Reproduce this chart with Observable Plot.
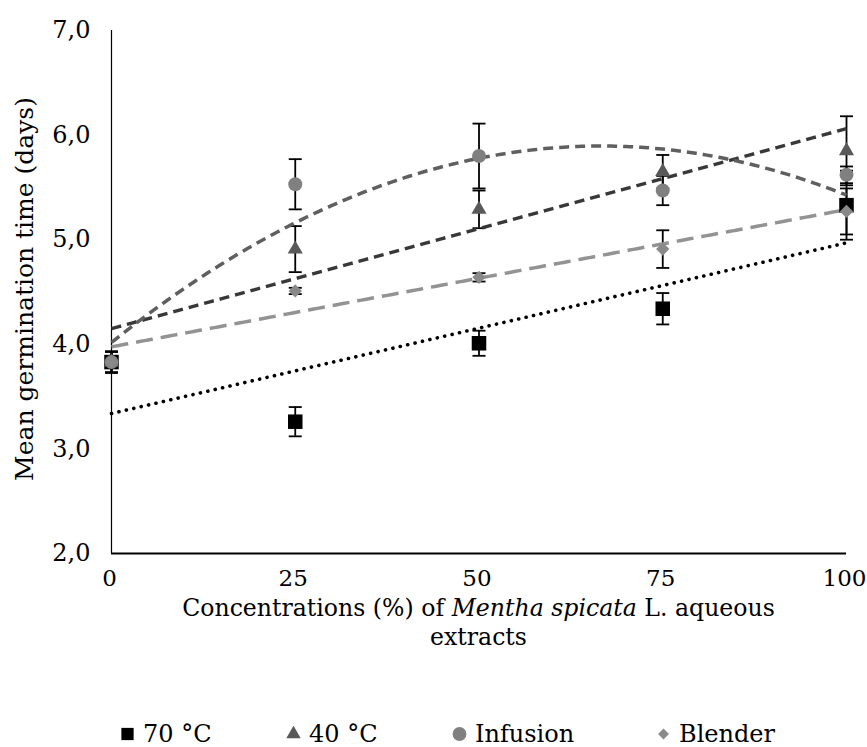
<!DOCTYPE html>
<html>
<head>
<meta charset="utf-8">
<script src="https://cdn.jsdelivr.net/npm/d3@7"></script>
<script src="https://cdn.jsdelivr.net/npm/@observablehq/plot@0.6"></script>
<style>
  body { margin: 0; background: #fff; }
  #wrap { width: 867px; height: 747px; position: relative; font-family: "DejaVu Serif", serif; }
  #legend { position: relative; width: 867px; height: 37px; font-size: 24px; color: #000; }
  #legend .item { position: absolute; top: 5px; height: 37px; display: flex; align-items: center; white-space: nowrap; }
  #legend svg { display: block; margin-right: 8px; }
</style>
</head>
<body>
<div id="wrap"><div id="chart"></div><div id="legend"></div></div>
<script>
// ---- data ----
const concentrations = [0, 25, 50, 75, 100];
const seriesNames = ["70 °C", "40 °C", "Infusion", "Blender"];
const mean70 = [3.83, 3.26, 4.01, 4.34, 5.33];
const err70  = [0.10, 0.14, 0.12, 0.15, 0.33];
const mean40 = [3.83, 4.91, 5.29, 5.65, 5.85];
const err40  = [0.10, 0.22, 0.18, 0.16, 0.33];
const meanInf = [3.83, 5.53, 5.80, 5.47, 5.62];
const errInf  = [0.10, 0.24, 0.31, 0.14, 0.08];
const meanBl = [3.83, 4.51, 4.64, 4.91, 5.27];
const errBl  = [0.10, 0.03, 0.04, 0.18, 0.22];
const trendDegree = [1, 1, 2, 1]; // linear, linear, polynomial (2), linear
const yTicks = [2, 3, 4, 5, 6, 7];

// ---- styles ----
const markerFill = ["#000000", "#595959", "#808080", "#898989"];
const markerSymbol = ["square", "triangle", "circle", "diamond2"];
const markerR = [8.2, 5.6, 7, 6];
const lineColor = ["#000000", "#383838", "#5f5f5f", "#939393"];
const lineDash = ["0.1,7.5", "10,6", "10,6", "17,8"];
const lineWidth = [3.6, 3.5, 3.5, 3.5];

const means = [mean70, mean40, meanInf, meanBl];
const errs = [err70, err40, errInf, errBl];

const rows = [];
seriesNames.forEach((s, i) => {
  concentrations.forEach((c, j) => {
    rows.push({series: s, idx: i, x: c, y: means[i][j], lo: means[i][j] - errs[i][j], hi: means[i][j] + errs[i][j]});
  });
});

function polyfit(xs, ys, deg) {
  const n = deg + 1;
  const A = Array.from({length: n}, () => Array(n + 1).fill(0));
  for (let k = 0; k < xs.length; k++) {
    for (let i = 0; i < n; i++) {
      for (let j = 0; j < n; j++) A[i][j] += Math.pow(xs[k], i + j);
      A[i][n] += ys[k] * Math.pow(xs[k], i);
    }
  }
  for (let i = 0; i < n; i++) {
    let p = i;
    for (let r = i + 1; r < n; r++) if (Math.abs(A[r][i]) > Math.abs(A[p][i])) p = r;
    [A[i], A[p]] = [A[p], A[i]];
    for (let r = 0; r < n; r++) {
      if (r === i) continue;
      const f = A[r][i] / A[i][i];
      for (let c = i; c <= n; c++) A[r][c] -= f * A[i][c];
    }
  }
  return A.map((row, i) => row[n] / row[i]);
}

const trendRows = [];
seriesNames.forEach((s, i) => {
  const coef = polyfit(concentrations, means[i], trendDegree[i]);
  const x0 = d3.min(concentrations), x1 = d3.max(concentrations);
  for (let t = 0; t <= 200; t++) {
    const x = x0 + (x1 - x0) * t / 200;
    const y = coef.reduce((acc, c, k) => acc + c * Math.pow(x, k), 0);
    trendRows.push({series: s, idx: i, x, y});
  }
});

const capSymbol = {
  draw(ctx, size) {
    const r = Math.sqrt(size / Math.PI);
    ctx.moveTo(-r, 0);
    ctx.lineTo(r, 0);
  }
};

const fmt = d => d.toFixed(1).replace(".", ",");

const marks = [
  Plot.ruleX([0], {stroke: "#000", strokeWidth: 1.2}),
  Plot.ruleY([2], {stroke: "#000", strokeWidth: 2}),
  Plot.axisY({ticks: yTicks, tickFormat: fmt, tickSize: 0, tickPadding: 21, label: null, fontSize: 24, fill: "#000"}),
  Plot.axisX({ticks: concentrations, tickFormat: d => String(d), tickSize: 0, tickPadding: 16, dx: -2, label: null, fontSize: 23, fill: "#000"}),
  // error bars
  Plot.ruleX(rows, {x: "x", y1: "lo", y2: "hi", stroke: "#000", strokeWidth: 1.8}),
  Plot.dot(rows, {x: "x", y: "lo", symbol: capSymbol, r: 6.5, stroke: "#000", strokeWidth: 1.8, fill: "none"}),
  Plot.dot(rows, {x: "x", y: "hi", symbol: capSymbol, r: 6.5, stroke: "#000", strokeWidth: 1.8, fill: "none"}),
];
// trend lines
seriesNames.forEach((s, i) => {
  marks.push(Plot.line(trendRows.filter(d => d.idx === i), {
    x: "x", y: "y", stroke: lineColor[i], strokeWidth: lineWidth[i],
    strokeDasharray: lineDash[i], strokeLinecap: i === 0 ? "round" : "butt", curve: "linear"
  }));
});
// markers
seriesNames.forEach((s, i) => {
  marks.push(Plot.dot(rows.filter(d => d.idx === i), {
    x: "x", y: "y", symbol: markerSymbol[i], r: markerR[i], fill: markerFill[i], stroke: "none"
  }));
});

const chart = Plot.plot({
  width: 867,
  height: 710,
  marginLeft: 111,
  marginRight: 21,
  marginTop: 30,
  marginBottom: 157,
  style: {fontFamily: "DejaVu Serif, serif", fontSize: "24px", color: "#000", background: "#fff", overflow: "visible"},
  x: {domain: [0, 100]},
  y: {domain: [2, 7]},
  marks
});

const svg = d3.select(chart);
svg.append("text")
  .attr("transform", "translate(24,289) rotate(-90)")
  .attr("text-anchor", "middle")
  .attr("dy", "0.35em")
  .attr("font-size", 25)
  .attr("fill", "#000")
  .text("Mean germination time (days)");
const t1 = svg.append("text")
  .attr("x", 478.5).attr("y", 608)
  .attr("text-anchor", "middle").attr("dy", "0.35em")
  .attr("font-size", 23.6).attr("fill", "#000");
t1.append("tspan").text("Concentrations (%) of ");
t1.append("tspan").attr("font-style", "italic").text("Mentha spicata");
t1.append("tspan").text(" L. aqueous");
svg.append("text")
  .attr("x", 478.5).attr("y", 637)
  .attr("text-anchor", "middle").attr("dy", "0.35em")
  .attr("font-size", 23.6).attr("fill", "#000")
  .text("extracts");

document.getElementById("chart").appendChild(chart);

// legend
const legendPos = [120, 286, 452, 656];
const legend = d3.select("#legend");
seriesNames.forEach((s, i) => {
  const item = legend.append("div").attr("class", "item").style("left", legendPos[i] + "px");
  const sv = item.append("svg").attr("width", 15).attr("height", 16);
  sv.append("path")
    .attr("transform", "translate(7.5,8)")
    .attr("d", d3.symbol(
      [d3.symbolSquare, d3.symbolTriangle, d3.symbolCircle, d3.symbolDiamond2][i],
      [150, 90, 150, 75][i])())
    .attr("fill", markerFill[i]);
  item.append("span").text(s);
});
</script>
</body>
</html>
